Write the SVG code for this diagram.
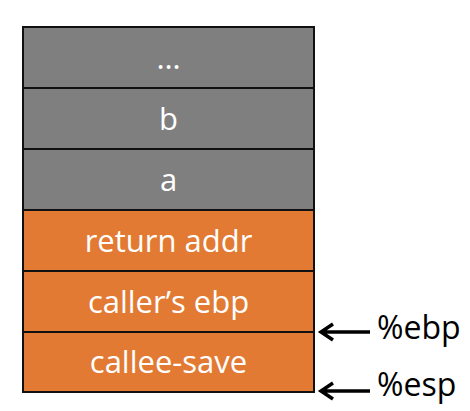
<svg xmlns="http://www.w3.org/2000/svg" width="470" height="411" viewBox="0 0 470 411">
<style>
.g{fill:#7f7f7f;stroke:#111;stroke-width:2}
.o{fill:#e27a33;stroke:#111;stroke-width:2}
.t{fill:#fff;font-family:"Open Sans","Liberation Sans",sans-serif;font-size:31px;text-anchor:middle}
.l{fill:#000;font-family:"Open Sans","Liberation Sans",sans-serif;font-size:32px}
.a{stroke:#000;stroke-width:3.5;fill:none}
</style>
<rect width="470" height="411" fill="#fff"/>
<g id="n1"><rect class="g" x="23" y="27" width="291" height="61"/><text class="t" x="168.5" y="69">…</text></g>
<g id="n2"><rect class="g" x="23" y="88" width="291" height="61"/><text class="t" x="168.5" y="130">b</text></g>
<g id="n3"><rect class="g" x="23" y="149" width="291" height="61"/><text class="t" x="168.5" y="191">a</text></g>
<g id="n4"><rect class="o" x="23" y="210" width="291" height="61"/><text class="t" x="168.5" y="252">return addr</text></g>
<g id="n5"><rect class="o" x="23" y="271" width="291" height="61"/><text class="t" x="168.5" y="313">caller’s ebp</text></g>
<g id="n6"><rect class="o" x="23" y="332" width="291" height="60"/><text class="t" x="168.5" y="373">callee-save</text></g>
<g id="connectors">
<path class="a" d="M321 332H370M333 324L321 332L333 340"/>
<path class="a" d="M321 391H370M333 383L321 391L333 399"/>
</g>
<g id="labels">
<text class="l" x="377" y="339">%ebp</text>
<text class="l" x="377" y="396">%esp</text>
</g>
</svg>
